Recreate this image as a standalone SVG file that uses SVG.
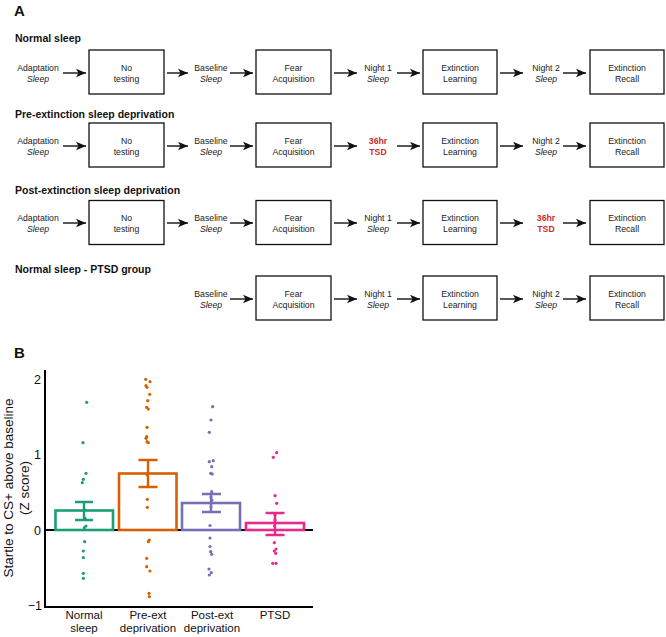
<svg xmlns="http://www.w3.org/2000/svg" width="666" height="637" viewBox="0 0 666 637">
<defs>
<marker id="ah" markerUnits="userSpaceOnUse" markerWidth="12" markerHeight="12" viewBox="0 0 12 12" refX="10" refY="6" orient="auto">
<path d="M0,1.8 L10,6 L0,10.2 L2.5,6 Z" fill="#111"/>
</marker>
</defs>
<style>
.pl{font-family:"Liberation Sans",Arial,sans-serif;font-weight:bold;fill:#111}
.tt{font-family:"Liberation Sans",Arial,sans-serif;font-weight:bold;font-size:10.5px;fill:#111}
.t{font-family:"Liberation Sans",Arial,sans-serif;font-size:8.7px;fill:#222;text-anchor:middle}
.i{font-style:italic}
.red{fill:#cc2a2a;font-weight:bold}
.box{fill:#fff;stroke:#111;stroke-width:1.3}
.arr{stroke:#111;stroke-width:1.4;fill:none;marker-end:url(#ah)}
.ax{stroke:#000;stroke-width:2;fill:none}
.tk{font-family:"Liberation Sans",Arial,sans-serif;font-size:12.5px;fill:#111;text-anchor:end}
.xl{font-family:"Liberation Sans",Arial,sans-serif;font-size:11.5px;fill:#111;text-anchor:middle}
.yl{font-family:"Liberation Sans",Arial,sans-serif;font-size:13.5px;fill:#111;text-anchor:middle}
.bar{fill:#fff;stroke-width:2.6}
.eb{fill:none;stroke-width:2.4}
.g{stroke:#1b9e77}.o{stroke:#d95f02}.p{stroke:#7570b3}.m{stroke:#e7298a}
.dg{fill:#1b9e77}.do{fill:#d95f02}.dp{fill:#7570b3}.dm{fill:#e7298a}
</style>
<rect width="666" height="637" fill="#fff"/>
<text class="pl" x="14" y="15.5" font-size="15">A</text>
<text class="pl" x="14" y="358" font-size="15">B</text>

<!-- Row titles -->
<text class="tt" x="15" y="42">Normal sleep</text>
<text class="tt" x="15" y="118">Pre-extinction sleep deprivation</text>
<text class="tt" x="15" y="194">Post-extinction sleep deprivation</text>
<text class="tt" x="15" y="273">Normal sleep - PTSD group</text>

<!-- Row 1 -->
<g id="r1-adapt"><text class="t" x="38" y="71"><tspan>Adaptation</tspan><tspan class="i" x="38" dy="10.5">Sleep</tspan></text></g>
<g id="r1-notest"><rect class="box" x="89" y="50" width="75" height="44"/><text class="t" x="126.5" y="71">No<tspan x="126.5" dy="10.5">testing</tspan></text></g>
<g id="r1-base"><text class="t" x="211" y="71">Baseline<tspan class="i" x="211" dy="10.5">Sleep</tspan></text></g>
<g id="r1-fear"><rect class="box" x="256" y="50" width="75" height="44"/><text class="t" x="293.5" y="71">Fear<tspan x="293.5" dy="10.5">Acquisition</tspan></text></g>
<g id="r1-n1"><text class="t" x="378" y="71">Night 1<tspan class="i" x="378" dy="10.5">Sleep</tspan></text></g>
<g id="r1-extl"><rect class="box" x="423" y="50" width="74" height="44"/><text class="t" x="460" y="71">Extinction<tspan x="460" dy="10.5">Learning</tspan></text></g>
<g id="r1-n2"><text class="t" x="546" y="71">Night 2<tspan class="i" x="546" dy="10.5">Sleep</tspan></text></g>
<g id="r1-extr"><rect class="box" x="590" y="50" width="74" height="44"/><text class="t" x="627" y="71">Extinction<tspan x="627" dy="10.5">Recall</tspan></text></g>

<!-- Row 2 -->
<g id="r2-adapt"><text class="t" x="38" y="144"><tspan>Adaptation</tspan><tspan class="i" x="38" dy="10.5">Sleep</tspan></text></g>
<g id="r2-notest"><rect class="box" x="89" y="123" width="75" height="44"/><text class="t" x="126.5" y="144">No<tspan x="126.5" dy="10.5">testing</tspan></text></g>
<g id="r2-base"><text class="t" x="211" y="144">Baseline<tspan class="i" x="211" dy="10.5">Sleep</tspan></text></g>
<g id="r2-fear"><rect class="box" x="256" y="123" width="75" height="44"/><text class="t" x="293.5" y="144">Fear<tspan x="293.5" dy="10.5">Acquisition</tspan></text></g>
<g id="r2-tsd"><text class="t red" x="378" y="144">36hr<tspan x="378" dy="10.5">TSD</tspan></text></g>
<g id="r2-extl"><rect class="box" x="423" y="123" width="74" height="44"/><text class="t" x="460" y="144">Extinction<tspan x="460" dy="10.5">Learning</tspan></text></g>
<g id="r2-n2"><text class="t" x="546" y="144">Night 2<tspan class="i" x="546" dy="10.5">Sleep</tspan></text></g>
<g id="r2-extr"><rect class="box" x="590" y="123" width="74" height="44"/><text class="t" x="627" y="144">Extinction<tspan x="627" dy="10.5">Recall</tspan></text></g>

<!-- Row 3 -->
<g id="r3-adapt"><text class="t" x="38" y="221"><tspan>Adaptation</tspan><tspan class="i" x="38" dy="10.5">Sleep</tspan></text></g>
<g id="r3-notest"><rect class="box" x="89" y="200.5" width="75" height="44"/><text class="t" x="126.5" y="221">No<tspan x="126.5" dy="10.5">testing</tspan></text></g>
<g id="r3-base"><text class="t" x="211" y="221">Baseline<tspan class="i" x="211" dy="10.5">Sleep</tspan></text></g>
<g id="r3-fear"><rect class="box" x="256" y="200.5" width="75" height="44"/><text class="t" x="293.5" y="221">Fear<tspan x="293.5" dy="10.5">Acquisition</tspan></text></g>
<g id="r3-n1"><text class="t" x="378" y="221">Night 1<tspan class="i" x="378" dy="10.5">Sleep</tspan></text></g>
<g id="r3-extl"><rect class="box" x="423" y="200.5" width="74" height="44"/><text class="t" x="460" y="221">Extinction<tspan x="460" dy="10.5">Learning</tspan></text></g>
<g id="r3-tsd"><text class="t red" x="546" y="221">36hr<tspan x="546" dy="10.5">TSD</tspan></text></g>
<g id="r3-extr"><rect class="box" x="590" y="200.5" width="74" height="44"/><text class="t" x="627" y="221">Extinction<tspan x="627" dy="10.5">Recall</tspan></text></g>

<!-- Row 4 -->
<g id="r4-base"><text class="t" x="211" y="297">Baseline<tspan class="i" x="211" dy="10.5">Sleep</tspan></text></g>
<g id="r4-fear"><rect class="box" x="256" y="276" width="75" height="44"/><text class="t" x="293.5" y="297">Fear<tspan x="293.5" dy="10.5">Acquisition</tspan></text></g>
<g id="r4-n1"><text class="t" x="378" y="297">Night 1<tspan class="i" x="378" dy="10.5">Sleep</tspan></text></g>
<g id="r4-extl"><rect class="box" x="423" y="276" width="74" height="44"/><text class="t" x="460" y="297">Extinction<tspan x="460" dy="10.5">Learning</tspan></text></g>
<g id="r4-n2"><text class="t" x="546" y="297">Night 2<tspan class="i" x="546" dy="10.5">Sleep</tspan></text></g>
<g id="r4-extr"><rect class="box" x="590" y="276" width="74" height="44"/><text class="t" x="627" y="297">Extinction<tspan x="627" dy="10.5">Recall</tspan></text></g>

<g id="connectors">
<path class="arr" d="M63,73H86"/><path class="arr" d="M167,73H188"/><path class="arr" d="M230,73H253"/><path class="arr" d="M334,73H357"/><path class="arr" d="M397,73H420"/><path class="arr" d="M500,73H523"/><path class="arr" d="M563,73H586"/>
<path class="arr" d="M63,146H86"/><path class="arr" d="M167,146H188"/><path class="arr" d="M230,146H253"/><path class="arr" d="M334,146H357"/><path class="arr" d="M397,146H420"/><path class="arr" d="M500,146H523"/><path class="arr" d="M563,146H586"/>
<path class="arr" d="M63,223H86"/><path class="arr" d="M167,223H188"/><path class="arr" d="M230,223H253"/><path class="arr" d="M334,223H357"/><path class="arr" d="M397,223H420"/><path class="arr" d="M500,223H523"/><path class="arr" d="M563,223H586"/>
<path class="arr" d="M230,299H253"/><path class="arr" d="M334,299H357"/><path class="arr" d="M397,299H420"/><path class="arr" d="M500,299H523"/><path class="arr" d="M563,299H586"/>
</g>

<!-- Panel B chart -->
<g id="chart">
<path class="ax" d="M45,370V607H313"/>
<path d="M45,530H313" stroke="#000" stroke-width="2"/>
<text class="tk" x="41" y="383.5">2</text>
<text class="tk" x="41" y="459">1</text>
<text class="tk" x="41" y="534.5">0</text>
<text class="tk" x="42" y="609.5">−1</text>
<text class="yl" transform="translate(13,488) rotate(-90)">Startle to CS+ above baseline</text>
<text class="yl" transform="translate(29,488) rotate(-90)">(Z score)</text>

<rect class="bar g" x="55.5" y="510.5" width="57.5" height="19.5"/>
<rect class="bar o" x="119" y="473.5" width="57.5" height="56.5"/>
<rect class="bar p" x="182" y="503" width="58" height="27"/>
<rect class="bar m" x="246" y="523" width="58" height="7"/>

<path class="eb g" d="M84,502V520M75,502H93M75,520H93"/>
<path class="eb o" d="M148,460V487M138.5,460H157.5M138.5,487H157.5"/>
<path class="eb p" d="M211,494V512M202,494H221M202,512H221"/>
<path class="eb m" d="M275,513V535M265.5,513H284.5M265.5,535H284.5"/>

<g class="dg">
<circle cx="86.7" cy="402.3" r="1.6"/><circle cx="83" cy="442.7" r="1.6"/><circle cx="86" cy="473.3" r="1.6"/><circle cx="83.3" cy="479.3" r="1.6"/><circle cx="82.3" cy="482.7" r="1.6"/><circle cx="85" cy="510" r="1.6"/><circle cx="85" cy="518.3" r="1.6"/><circle cx="86" cy="526" r="1.6"/><circle cx="84.3" cy="527.7" r="1.6"/><circle cx="84.7" cy="541.7" r="1.6"/><circle cx="83.3" cy="551" r="1.6"/><circle cx="83.3" cy="557.7" r="1.6"/><circle cx="83.3" cy="573.3" r="1.6"/><circle cx="83.3" cy="578.3" r="1.6"/>
</g>
<g class="do">
<circle cx="145.7" cy="379.3" r="1.6"/><circle cx="150" cy="381.7" r="1.6"/><circle cx="146" cy="385.7" r="1.6"/><circle cx="147" cy="387.3" r="1.6"/><circle cx="149.7" cy="394.3" r="1.6"/><circle cx="147.7" cy="400.7" r="1.6"/><circle cx="146.7" cy="407.3" r="1.6"/><circle cx="148.3" cy="409" r="1.6"/><circle cx="147" cy="427.3" r="1.6"/><circle cx="146.7" cy="436.7" r="1.6"/><circle cx="146" cy="438.3" r="1.6"/><circle cx="147" cy="441.7" r="1.6"/><circle cx="148.3" cy="442.7" r="1.6"/><circle cx="147.3" cy="475" r="1.6"/><circle cx="147.3" cy="499.3" r="1.6"/><circle cx="147.3" cy="507.3" r="1.6"/><circle cx="149.3" cy="540" r="1.6"/><circle cx="148.3" cy="541.7" r="1.6"/><circle cx="146.7" cy="558.3" r="1.6"/><circle cx="146.7" cy="566.7" r="1.6"/><circle cx="150" cy="571" r="1.6"/><circle cx="149" cy="593.3" r="1.6"/><circle cx="149.3" cy="596.7" r="1.6"/>
</g>
<g class="dp">
<circle cx="212.7" cy="406.7" r="1.6"/><circle cx="211" cy="420" r="1.6"/><circle cx="209.3" cy="432.3" r="1.6"/><circle cx="209.3" cy="461.7" r="1.6"/><circle cx="213.3" cy="460.7" r="1.6"/><circle cx="211.7" cy="466.7" r="1.6"/><circle cx="210.7" cy="473.3" r="1.6"/><circle cx="212.3" cy="474" r="1.6"/><circle cx="211.7" cy="491.7" r="1.6"/><circle cx="211" cy="497" r="1.6"/><circle cx="212" cy="500" r="1.6"/><circle cx="211" cy="507" r="1.6"/><circle cx="210" cy="525.5" r="1.6"/><circle cx="210" cy="538" r="1.6"/><circle cx="210" cy="546.5" r="1.6"/><circle cx="210.7" cy="551.7" r="1.6"/><circle cx="211.7" cy="554.3" r="1.6"/><circle cx="209" cy="569" r="1.6"/><circle cx="211.3" cy="572.7" r="1.6"/><circle cx="209.3" cy="575" r="1.6"/>
</g>
<g class="dm">
<circle cx="276.7" cy="452.7" r="1.6"/><circle cx="273.3" cy="457.3" r="1.6"/><circle cx="275" cy="495.7" r="1.6"/><circle cx="276.7" cy="503.3" r="1.6"/><circle cx="275" cy="515" r="1.6"/><circle cx="275" cy="520" r="1.6"/><circle cx="274.5" cy="526" r="1.6"/><circle cx="274.3" cy="542.7" r="1.6"/><circle cx="276" cy="549" r="1.6"/><circle cx="274.3" cy="551" r="1.6"/><circle cx="275.7" cy="553.3" r="1.6"/><circle cx="272.7" cy="563.3" r="1.6"/><circle cx="276" cy="563.3" r="1.6"/>
</g>

<text class="xl" x="84" y="619">Normal</text><text class="xl" x="84" y="632">sleep</text>
<text class="xl" x="148" y="619">Pre-ext</text><text class="xl" x="148" y="632">deprivation</text>
<text class="xl" x="212" y="619">Post-ext</text><text class="xl" x="212" y="632">deprivation</text>
<text class="xl" x="275" y="619">PTSD</text>
</g>
</svg>
